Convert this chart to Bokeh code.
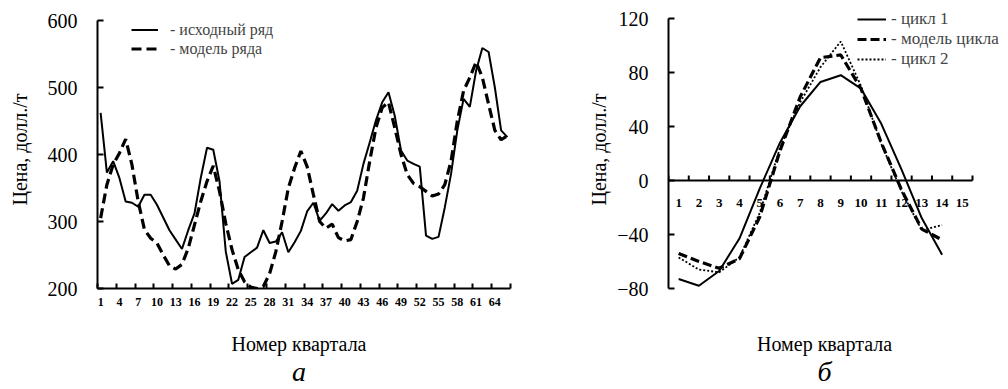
from bokeh.plotting import figure
from bokeh.models import FixedTicker, Legend, LegendItem
from bokeh.layouts import row, column
from bokeh.embed import file_html
from bokeh.resources import INLINE
from bokeh.core.properties import value

FONT = "'Liberation Serif', serif"

# ---------------- data: chart "а" ----------------
quarters = list(range(1, 67))
series_actual = [462, 373, 390, 365, 330, 328, 322, 340, 340, 325,
                 306, 287, 273, 259, 287, 312, 365, 410, 407, 360,
                 255, 207, 213, 247, 254, 261, 287, 268, 270, 284,
                 254, 269, 286, 315, 328, 301, 312, 326, 316, 324,
                 329, 346, 386, 418, 451, 478, 493, 458, 406, 391,
                 386, 382, 279, 274, 277, 321, 371, 436, 483, 471,
                 525, 559, 553, 500, 436, 426]
series_model = [305, 355, 385, 402, 423, 385, 330, 288, 275, 268,
                250, 234, 229, 236, 260, 295, 330, 360, 383, 345,
                297, 258, 228, 210, 202, 200, 203, 222, 255, 300,
                350, 380, 405, 382, 340, 300, 290, 296, 276, 271,
                273, 300, 335, 390, 440, 470, 478, 440, 400, 370,
                357, 352, 345, 338, 341, 355, 390, 450, 495, 515,
                538, 515, 475, 436, 422, 428]
left_x_ticks = list(range(1, 65, 3))
left_y_ticks = [200, 300, 400, 500, 600]
left_legend = ["- исходный ряд", "- модель ряда"]

# ---------------- data: chart "б" ----------------
cycle_quarters = list(range(1, 15))
cycle_axis_labels = [str(i) for i in range(1, 16)]
cycle_1 = [-73, -78, -67, -43, -6, 28, 55, 73, 78, 68, 42, 8, -28, -55]
cycle_model = [-54, -60, -65, -58, -27, 22, 62, 91, 93, 68, 28, -7, -36, -44]
cycle_2 = [-57, -66, -68, -57, -24, 24, 58, 84, 103, 70, 27, -8, -37, -33]
right_y_ticks = [-80, -40, 0, 40, 80, 120]
right_legend = ["- цикл 1", "- модель цикла", "- цикл 2"]

y_title = "Цена, долл./т"
x_title = "Номер квартала"
panel_captions = ["а", "б"]

TOP_H = 320     # height of the chart figures
CAP_H = 68      # height of the caption strips below them
TOP_B = 10      # common top border (plots in a row share it)
FRAME_H = 278   # common frame height (top border 10, bottom border 32)


def style_common(p):
    p.outline_line_color = None
    p.xgrid.visible = False
    p.ygrid.visible = False
    p.background_fill_color = "white"
    p.border_fill_color = "white"
    for ax in p.yaxis:
        ax.axis_line_width = 2
        ax.axis_line_color = "black"
        ax.major_tick_in = 6
        ax.major_tick_out = 0
        ax.major_tick_line_width = 2
        ax.minor_tick_line_color = None
        ax.major_label_text_font = FONT
        ax.major_label_text_font_size = "20px"
        ax.major_label_text_color = "black"
        ax.major_label_standoff = 20
        ax.axis_label = y_title
        ax.axis_label_text_font = FONT
        ax.axis_label_text_font_size = "20px"
        ax.axis_label_text_font_style = "normal"
        ax.axis_label_text_color = "black"


def caption(width, x_range, left, right, x_center, letter):
    c = figure(width=width, height=CAP_H, x_range=x_range, y_range=(0, CAP_H),
               x_axis_type=None, y_axis_type=None, output_backend="svg",
               toolbar_location=None, title=None, min_border_left=left,
               min_border_right=right, min_border_top=0, min_border_bottom=0)
    c.outline_line_color = None
    c.background_fill_color = "white"
    c.border_fill_color = "white"
    c.text(x=[x_center], y=[CAP_H - 23], text=[x_title], text_align="center",
           text_baseline="alphabetic", text_font=value(FONT),
           text_font_size="20px", text_color="black")
    c.text(x=[x_center], y=[2], text=[letter], text_align="center",
           text_baseline="bottom", text_font=value(FONT),
           text_font_size="28px", text_font_style="italic",
           text_color="black")
    return c


# ---------------- left figure ----------------
x0, x1 = quarters[0] - 0.5, quarters[-1] + 0.5
left_unit_px = 268 / (left_y_ticks[-1] - left_y_ticks[0])
ly0 = left_y_ticks[0]
ly1 = ly0 + FRAME_H / left_unit_px
p1 = figure(width=560, height=TOP_H, x_range=(x0, x1), y_range=(ly0, ly1),
            output_backend="svg", toolbar_location=None, title=None,
            min_border_left=97, min_border_right=50,
            min_border_top=TOP_B, min_border_bottom=32)
style_common(p1)
p1.yaxis.ticker = FixedTicker(ticks=left_y_ticks)
p1.yaxis.bounds = (left_y_ticks[0], left_y_ticks[-1])
p1.yaxis.axis_label_standoff = 14

bounds = [q - 0.5 for q in quarters[::3]] + [x1]
xa = p1.xaxis[0]
xa.ticker = FixedTicker(ticks=left_x_ticks, minor_ticks=bounds)
xa.axis_line_width = 2
xa.major_tick_in = 0
xa.major_tick_out = 0
xa.minor_tick_in = 5
xa.minor_tick_out = 0
xa.minor_tick_line_width = 2
xa.minor_tick_line_color = "black"
xa.major_label_text_font = FONT
xa.major_label_text_font_size = "12px"
xa.major_label_text_font_style = "bold"
xa.major_label_text_color = "black"
xa.major_label_standoff = 9

r_act = p1.line(quarters, series_actual, line_color="black", line_width=2)
r_mod = p1.line(quarters, series_model, line_color="black", line_width=3.2,
                line_dash="10 5")

leg1 = Legend(items=[LegendItem(label=left_legend[0], renderers=[r_act]),
                     LegendItem(label=left_legend[1], renderers=[r_mod])],
              location=(34, 230), border_line_color=None,
              background_fill_alpha=0, padding=0, margin=0, spacing=-1,
              glyph_height=19, glyph_width=27, label_height=19,
              label_standoff=12, label_text_font=FONT,
              label_text_font_size="16px")
p1.add_layout(leg1)

# ---------------- right figure ----------------
n_cat = len(cycle_axis_labels)
cat_px = 304 / n_cat            # pixels per category in the reference
unit_px = 270 / (right_y_ticks[-1] - right_y_ticks[0])
frame_w = 332                   # frame widened so the legend fits inside
cx0 = 0.5
cx_axis_end = n_cat + 0.5
cx1 = cx0 + frame_w / cat_px
cy0 = right_y_ticks[0]
cy1 = cy0 + FRAME_H / unit_px

p2 = figure(width=446, height=TOP_H, x_range=(cx0, cx1), y_range=(cy0, cy1),
            output_backend="svg", toolbar_location=None, title=None,
            min_border_left=108, min_border_right=6,
            min_border_top=TOP_B, min_border_bottom=32)
style_common(p2)
p2.yaxis.ticker = FixedTicker(ticks=right_y_ticks)
p2.yaxis.bounds = (right_y_ticks[0], right_y_ticks[-1])
p2.yaxis.axis_label_standoff = 4
p2.xaxis.visible = False

# x axis drawn through zero
p2.segment(x0=[cx0], y0=[0], x1=[cx_axis_end], y1=[0], line_color="black",
           line_width=2)
cbounds = [k + 0.5 for k in range(0, n_cat + 1)]
p2.segment(x0=cbounds, y0=[0] * len(cbounds), x1=cbounds,
           y1=[5 / unit_px] * len(cbounds), line_color="black",
           line_width=2)
p2.text(x=list(range(1, n_cat + 1)), y=[0] * n_cat, text=cycle_axis_labels,
        y_offset=22, text_align="center", text_baseline="middle",
        text_font=value(FONT), text_font_size="13px",
        text_font_style="bold", text_color="black")

r_c1 = p2.line(cycle_quarters, cycle_1, line_color="black", line_width=2)
r_cm = p2.line(cycle_quarters, cycle_model, line_color="black",
               line_width=3.2, line_dash="9 4")
r_c2 = p2.line(cycle_quarters, cycle_2, line_color="black", line_width=1.8,
               line_dash="2 2")

leg2 = Legend(items=[LegendItem(label=right_legend[0], renderers=[r_c1]),
                     LegendItem(label=right_legend[1], renderers=[r_cm]),
                     LegendItem(label=right_legend[2], renderers=[r_c2])],
              location=(189, 219), border_line_color=None,
              background_fill_alpha=0, padding=0, margin=0, spacing=-3,
              glyph_height=20, glyph_width=29, label_height=20,
              label_standoff=5, label_text_font=FONT,
              label_text_font_size="17px")
p2.add_layout(leg2)

# ---------------- captions ----------------
c1 = caption(560, p1.x_range, 97, 50, (x0 + x1) / 2 - 0.8, panel_captions[0])
c2 = caption(446, p2.x_range, 108, 6, (cx0 + cx_axis_end) / 2 + 0.2,
             panel_captions[1])

layout = column(row(p1, p2), row(c1, c2))
open("out.html", "w").write(file_html(layout, INLINE))
